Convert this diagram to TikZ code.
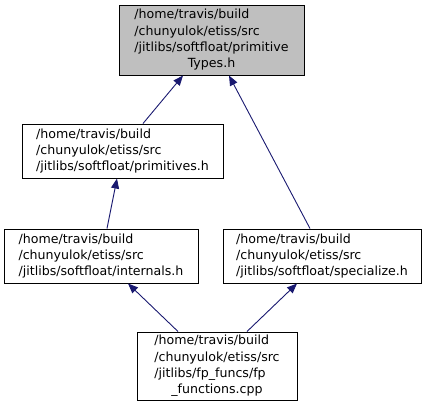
\documentclass[tikz,border=0pt]{standalone}
\usepackage{fontspec}
\setmainfont{DejaVu Sans}
\usetikzlibrary{arrows.meta}
\definecolor{edgeblue}{HTML}{191970}
\definecolor{boxgray}{HTML}{BFBFBF}
\tikzset{
  filebox/.style={draw=black, line width=1pt, fill=white, inner sep=0pt,
    font=\fontsize{12.6}{16.2}\selectfont},
  dep/.style={draw=edgeblue, line width=0.9pt, -{Triangle[length=10pt,width=8pt]}, edgeblue}
}
\newcommand{\lines}[1]{\begin{tabular}{@{}l@{}}#1\end{tabular}}
\begin{document}
\begin{tikzpicture}[x=1pt,y=-1pt]
\useasboundingbox (0,0) rectangle (429,408);
\node[filebox, fill=boxgray, minimum width=185pt, minimum height=70pt] (top) at (211.5,40)
  {\lines{/home/travis/build\\/chunyulok/etiss/src\\/jitlibs/softfloat/primitive\\\multicolumn{1}{@{}c@{}}{Types.h}}};
\node[filebox, minimum width=201pt, minimum height=54pt] (prim) at (122.5,151)
  {\lines{/home/travis/build\\/chunyulok/etiss/src\\/jitlibs/softfloat/primitives.h}};
\node[filebox, minimum width=194pt, minimum height=54pt] (intern) at (101,256)
  {\lines{/home/travis/build\\/chunyulok/etiss/src\\/jitlibs/softfloat/internals.h}};
\node[filebox, minimum width=198pt, minimum height=54pt] (spec) at (322,256)
  {\lines{/home/travis/build\\/chunyulok/etiss/src\\/jitlibs/softfloat/specialize.h}};
\node[filebox, minimum width=160pt, minimum height=68pt] (fp) at (217,366)
  {\lines{/home/travis/build\\/chunyulok/etiss/src\\/jitlibs/fp\_funcs/fp\\\multicolumn{1}{@{}c@{}}{\_functions.cpp}}};
\draw[dep] ([xshift=20.5pt]prim.north) -- ([xshift=-28.5pt]top.south);
\draw[dep] ([xshift=-12pt]spec.north) -- ([xshift=17.5pt]top.south);
\draw[dep] ([xshift=6pt]intern.north) -- ([xshift=-5.5pt]prim.south);
\draw[dep] ([xshift=-39pt]fp.north) -- ([xshift=27pt]intern.south);
\draw[dep] ([xshift=30pt]fp.north) -- ([xshift=-25pt]spec.south);
\end{tikzpicture}
\end{document}
